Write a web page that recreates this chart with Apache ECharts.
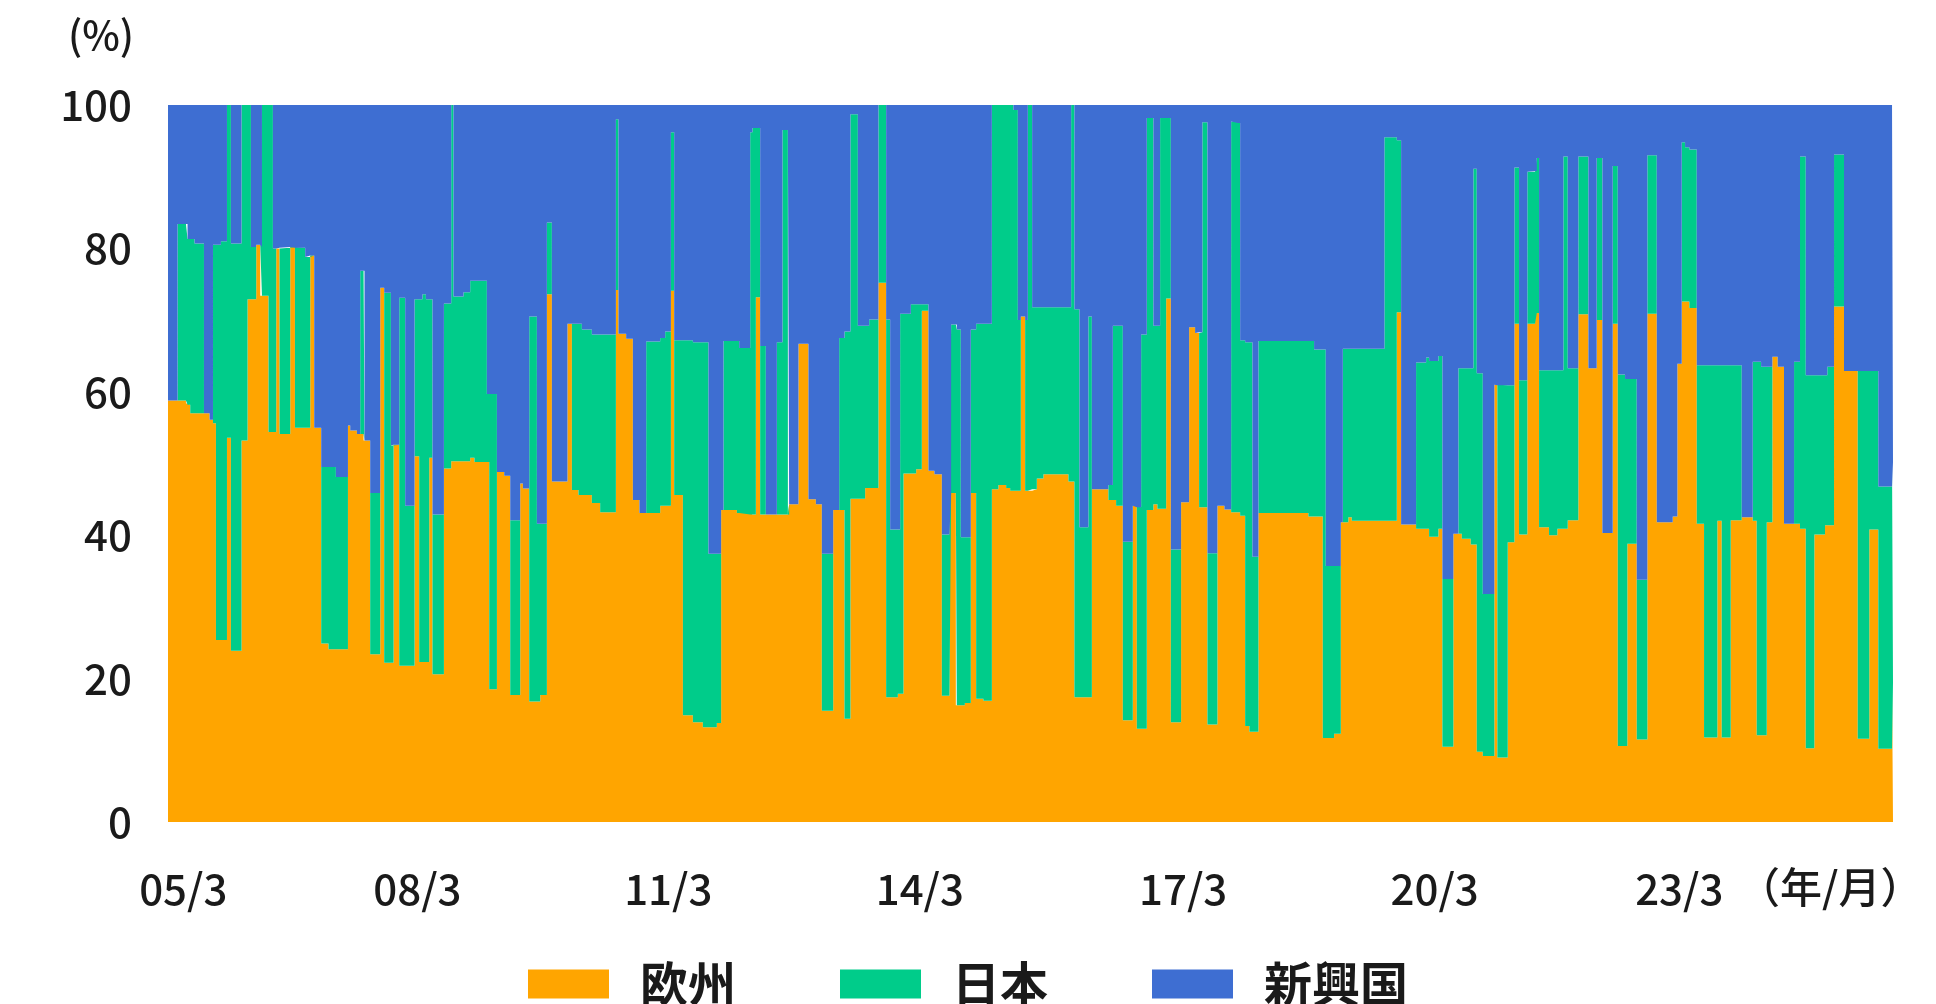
<!DOCTYPE html>
<html><head><meta charset="utf-8">
<script src="https://cdn.jsdelivr.net/npm/echarts@6/dist/echarts.min.js"></script>
<style>html,body{margin:0;padding:0;background:#fff}#c{width:1936px;height:1004px}</style>
</head><body><div id="c"></div>
<script>
// time positions in months from 2005/3 (each value holds until the next point)
const months = [
-2.2,-0.82,0.39,0.62,1.01,1.63,2.99,3.8,4.29,4.72,
5.44,6.31,6.88,8.41,9.28,9.77,10.53,11.11,11.36,12.31,
12.94,13.42,13.9,15.44,16.12,17.6,18.33,18.9,19.91,20.97,
22.03,23.77,24.1,25.06,25.54,26.02,26.16,26.98,28.43,29.0,
29.97,30.35,31.17,32.03,33.38,34.05,34.53,35.02,35.5,35.97,
37.62,38.67,39.0,40.45,41.41,42.03,43.82,44.16,45.27,46.32,
47.19,48.63,49.02,49.93,51.04,51.52,52.48,53.2,55.45,56.09,
57.04,57.53,58.97,60.17,62.44,62.81,63.92,64.89,65.84,66.81,
68.83,69.55,70.38,70.85,72.11,73.55,74.99,75.8,77.01,77.63,
77.97,79.9,80.23,81.82,82.15,82.64,83.26,84.08,85.67,86.48,
87.26,87.45,88.79,90.23,91.3,92.16,93.8,94.66,95.43,96.29,
97.36,98.41,98.99,100.33,101.44,102.02,103.13,103.46,103.94,105.01,
105.77,106.59,107.55,108.41,109.48,110.58,110.82,111.5,111.64,112.22,
112.8,113.66,114.43,115.48,116.7,117.65,118.76,119.34,119.81,120.45,
120.88,121.5,121.89,122.51,123.19,124.14,127.75,128.14,128.61,129.34,
130.63,131.13,133.52,134.16,134.63,135.6,137.04,137.62,138.24,139.06,
140.01,140.59,140.98,141.85,142.53,144.01,145.17,146.03,146.61,147.08,
147.81,149.25,150.26,151.23,152.19,152.53,153.25,153.87,154.3,155.17,
162.38,163.2,164.46,164.89,166.09,167.06,167.35,168.15,168.64,173.35,
175.14,175.76,177.92,179.37,179.8,181.14,181.72,183.3,184.03,184.52,
185.81,186.19,186.68,187.55,189.22,189.65,191.15,192.11,192.78,193.98,
195.09,195.34,195.67,197.11,198.31,199.18,199.81,201.34,202.79,203.99,
204.81,206.3,207.03,208.08,208.41,209.77,211.3,212.66,214.96,215.63,
216.26,216.74,217.36,218.43,219.48,221.4,222.03,223.33,224.92,226.51,
227.08,227.71,228.53,229.34,230.11,231.02,232.47,233.33,234.16,235.4,
236.94,237.27,238.24,239.68,241.66,243.33,244.63,246.61,246.75
];
const europe = [
58.8,58.8,58.4,58.2,57.0,57.0,57.0,56.1,55.6,25.4,
25.4,53.6,23.9,53.2,72.9,72.9,80.5,73.4,73.4,54.4,
54.4,80.0,54.1,80.2,55.0,55.0,79.0,55.0,24.9,24.1,
24.1,55.3,54.6,54.1,54.1,53.2,53.2,23.4,74.5,22.2,
22.2,52.6,21.8,21.8,51.0,22.3,22.3,22.3,50.8,20.6,
49.3,50.3,50.3,50.3,50.8,50.2,50.2,18.5,48.8,48.3,
17.7,47.2,46.5,16.8,16.8,17.7,73.6,47.5,69.5,46.3,
45.6,45.6,44.5,43.2,74.2,68.1,67.4,44.9,43.1,43.1,
44.1,44.1,74.1,45.6,14.9,13.9,13.2,13.2,13.8,43.5,
43.5,43.1,43.1,42.9,42.9,73.2,42.9,42.9,42.9,42.9,
42.9,44.3,66.7,45.0,44.3,15.5,43.5,43.5,14.4,45.1,
45.1,46.6,46.6,75.2,17.4,17.4,17.9,17.9,48.6,48.6,
49.2,71.3,49.0,48.5,17.6,45.9,45.9,16.3,16.3,16.3,
16.6,45.9,17.2,16.9,46.4,47.0,46.6,46.2,46.2,46.2,
70.5,46.2,46.2,46.4,47.9,48.5,47.5,47.5,17.4,17.4,
17.4,46.4,44.9,44.9,44.1,14.2,44.1,13.0,13.0,43.5,
44.3,43.7,43.7,73.0,13.9,44.6,69.0,68.2,43.9,43.9,
13.6,44.1,43.6,43.2,43.2,42.7,13.4,12.6,12.6,43.1,
42.6,42.6,11.7,11.7,12.3,41.8,41.8,42.5,42.0,42.0,
71.1,41.5,40.9,40.9,39.8,40.9,10.5,40.2,40.2,39.5,
38.7,38.7,9.8,9.2,61.0,9.0,39.0,69.5,40.1,69.5,
71.0,71.0,41.1,40.0,40.9,40.9,42.1,70.8,63.3,70.0,
40.3,69.5,10.6,10.6,38.8,11.5,70.9,41.8,42.6,63.9,
72.6,72.6,71.7,41.6,11.8,42.0,11.8,42.1,42.5,42.0,
12.1,12.1,41.8,64.9,63.5,41.6,41.6,40.9,10.3,40.1,
41.4,41.4,71.9,62.9,11.6,40.8,10.2,19.5,19.5
];
const japan = [
0,24.6,25.0,23.1,24.3,23.7,0,0,24.9,55.1,
55.6,46.4,56.8,46.8,27.1,7.3,0,6.8,26.6,45.6,
25.6,0,26.0,0,25.1,23.8,0,0,24.6,25.4,
24.0,0,0,0,22.8,23.7,0,22.5,0,51.6,
30.3,0,51.3,22.3,21.9,50.6,51.3,50.6,22.1,22.3,
23.0,49.7,23.0,23.6,24.7,25.3,9.5,41.2,0,0,
24.4,0,0,53.7,24.8,23.9,10.0,0,0,23.2,
23.9,23.1,23.5,24.8,23.8,0,0,0,0,23.9,
23.4,24.3,22.1,21.6,52.3,53.0,53.7,24.2,23.6,0,
23.6,24.0,23.0,53.3,53.9,23.6,23.5,0,24.0,53.6,
0,0,0,0,0,21.9,0,24.0,54.0,53.6,
24.1,22.6,23.5,24.8,52.7,23.4,22.9,53.0,22.3,23.6,
23.0,0.9,0,0,22.5,0,23.5,53.1,52.4,23.4,
23.1,22.8,52.3,52.6,53.6,53.0,53.4,53.8,53.1,23.8,
0,23.8,53.8,25.4,23.9,23.3,24.3,52.5,54.1,23.7,
53.1,0,2.1,24.3,25.1,24.9,0,30.9,55.0,54.7,
24.9,25.5,54.5,25.2,24.1,0,0,0,24.4,53.7,
23.9,0,0,54.5,54.3,24.5,53.5,54.3,24.4,24.0,
24.5,23.3,54.2,24.0,23.4,0,24.2,23.5,24.0,53.5,
24.0,0,23.2,23.9,24.5,24.1,23.4,0,23.1,23.8,
24.6,52.4,52.8,22.6,0,51.9,21.9,21.8,21.5,21.2,
19.8,21.6,21.9,23.0,22.1,51.9,21.2,22.0,0,22.6,
0,22.0,51.8,51.2,23.0,22.3,22.1,0,0,0,
22.2,21.5,22.1,22.1,51.9,21.7,51.9,21.6,0,22.2,
52.1,51.4,21.7,0,0,0,22.6,51.9,52.0,22.2,
20.9,22.1,21.2,0,51.3,22.1,36.6,30.7,30.7
];
const emerging = [
41.2,16.6,16.6,18.7,18.7,19.3,43.0,43.9,19.5,19.5,
19.0,0,19.3,0,0,19.8,19.5,19.8,0,0,
20.0,20.0,19.9,19.8,19.9,21.2,21.0,45.0,50.5,50.5,
51.9,44.7,45.4,45.9,23.1,23.1,46.8,54.1,25.5,26.2,
47.5,47.4,26.9,55.9,27.1,27.1,26.4,27.1,27.1,57.1,
27.7,0,26.7,26.1,24.5,24.5,40.3,40.3,51.2,51.7,
57.9,52.8,53.5,29.5,58.4,58.4,16.4,52.5,30.5,30.5,
30.5,31.3,32.0,32.0,2.0,31.9,32.6,55.1,56.9,33.0,
32.5,31.6,3.8,32.8,32.8,33.1,33.1,62.6,62.6,56.5,
32.9,32.9,33.9,3.8,3.2,3.2,33.6,57.1,33.1,3.5,
57.1,55.7,33.3,55.0,55.7,62.6,56.5,32.5,31.6,1.3,
30.8,30.8,29.9,0,29.9,59.2,59.2,29.1,29.1,27.8,
27.8,27.8,51.0,51.5,59.9,54.1,30.6,30.6,31.3,60.3,
60.3,31.3,30.5,30.5,0,0,0,0,0.7,30.0,
29.5,30.0,0,28.2,28.2,28.2,28.2,0,28.5,58.9,
29.5,53.6,53.0,30.8,30.8,60.9,55.9,56.1,32.0,1.8,
30.8,30.8,1.8,1.8,62.0,55.4,31.0,31.8,31.7,2.4,
62.5,55.9,56.4,2.3,2.5,32.8,33.1,33.1,63.0,32.9,
32.9,34.1,34.1,64.3,64.3,58.2,34.0,34.0,34.0,4.5,
4.9,58.5,35.9,35.2,35.7,35.0,66.1,59.8,36.7,36.7,
36.7,8.9,37.4,68.2,39.0,39.1,39.1,8.7,38.4,9.3,
9.2,7.4,37.0,37.0,37.0,7.2,36.7,7.2,36.7,7.4,
59.7,8.5,37.6,38.2,38.2,66.2,7.0,58.2,57.4,36.1,
5.2,5.9,6.2,36.3,36.3,36.3,36.3,36.3,57.5,35.8,
35.8,36.5,36.5,35.1,36.5,58.4,35.8,7.2,37.7,37.7,
37.7,36.5,6.9,37.1,37.1,37.1,53.2,49.8,49.8
];
const seriesNames = ['欧州', '日本', '新興国'];
const xTickLabels = ['05/3', '08/3', '11/3', '14/3', '17/3', '20/3', '23/3'];
// where each date label sits on the same month scale
const xTickPos = [0, 33.8, 70.0, 106.3, 144.3, 180.6, 215.9];
const yTickLabels = ['0', '20', '40', '60', '80', '100'];

const BASE = Date.UTC(2005, 2, 1);
const MONTH_MS = 365.25 / 12 * 86400000;
const toTime = m => BASE + m * MONTH_MS;
const colors = ['#FFA500', '#00CC8A', '#3E6ED2'];
const FONT = '"Noto Sans CJK JP", "Noto Sans", sans-serif';
const TXT = '#1a1a1a';
const values = [europe, japan, emerging];
const mMin = months[0], mMax = months[months.length - 1];

function nearestIdx(arr, v) {
  let best = 0;
  for (let i = 1; i < arr.length; i++) if (Math.abs(arr[i] - v) < Math.abs(arr[best] - v)) best = i;
  return best;
}

const chart = echarts.init(document.getElementById('c'), null, {renderer: 'canvas'});
chart.setOption({
  animation: false,
  backgroundColor: '#fff',
  color: colors,
  textStyle: {fontFamily: FONT},
  grid: {left: 168, right: 43, top: 105, bottom: 182},
  legend: {
    left: 'center', top: 955, icon: 'rect', itemWidth: 81, itemHeight: 29, itemGap: 104,
    data: seriesNames.map((n, k) => ({name: n, itemStyle: {color: colors[k], opacity: 1}})),
    textStyle: {fontSize: 48, fontWeight: 'bold', color: TXT, fontFamily: FONT, padding: [0, 0, 0, 26]}
  },
  xAxis: [
    {
      type: 'time', show: false,
      min: toTime(mMin), max: toTime(mMax),
      splitLine: {show: false}
    },
    {
      type: 'value', position: 'bottom',
      min: mMin, max: mMax,
      axisLine: {show: false}, axisTick: {show: false}, splitLine: {show: false},
      axisLabel: {
        customValues: xTickPos,
        formatter: v => xTickLabels[nearestIdx(xTickPos, v)],
        fontSize: 42, fontWeight: 500, color: TXT, fontFamily: FONT, margin: 46
      }
    }
  ],
  yAxis: {
    type: 'value', min: 0, max: 100, interval: 20,
    axisLine: {show: false}, axisTick: {show: false}, splitLine: {show: false},
    axisLabel: {fontSize: 42, fontWeight: 500, color: TXT, fontFamily: FONT, margin: 36,
      formatter: v => yTickLabels[Math.round(v / 20)]}
  },
  graphic: [
    {type: 'text', left: 68, top: 15, style: {text: '(%)', fontSize: 40, fontWeight: 500, fill: TXT, fontFamily: FONT}},
    {type: 'text', left: 1738, top: 866, style: {text: '（年/月）', fontSize: 42, fontWeight: 500, fill: TXT, fontFamily: FONT}}
  ],
  series: seriesNames.map((name, k) => ({
    name: name, type: 'line', stack: 'total', step: 'end', xAxisIndex: 0,
    symbol: 'none', showSymbol: false,
    lineStyle: {width: 0},
    itemStyle: {color: colors[k]},
    areaStyle: {color: colors[k], opacity: 1},
    data: months.map((m, i) => [toTime(m), values[k][i]])
  }))
});
</script>
</body></html>
